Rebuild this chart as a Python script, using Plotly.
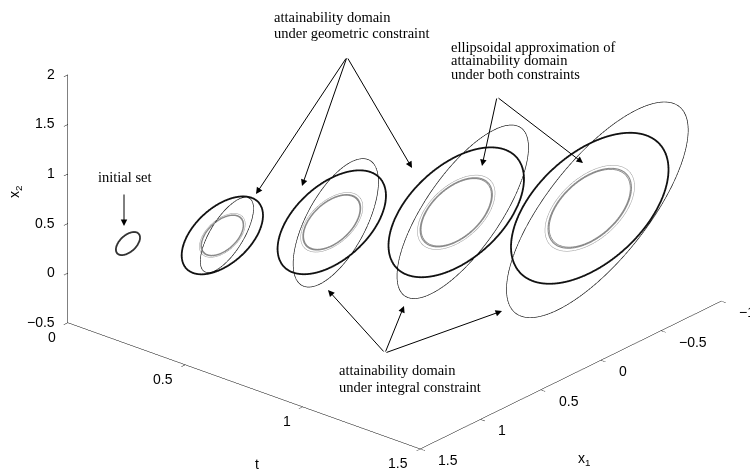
import numpy as np
import plotly.graph_objects as go

# ---------------- data ----------------
# time instants of the cross-sections
t_sections = [0.0, 0.375, 0.75, 1.125, 1.5]

# centre (x1, x2) of the sets at each section
center_x1 = [1.0, 0.948, 0.771, 0.469, 0.092]
center_x2 = [0.0, 0.37, 0.715, 0.954, 1.088]

# attainability domain under geometric constraint (circle radius)
geom_radius = [0.1, 0.3375, 0.45, 0.5625, 0.654]

# ellipsoidal approximation under both constraints (outer ring radius)
approx_radius = [None, 0.19, 0.258, 0.322, 0.372]
approx_ring_scale = [1.0, 0.93, 0.905]
approx_ring_width = [1.0, 2.2, 1.6]

# attainability domain under integral constraint: centre and shape matrix
integ_x1 = [None, 0.910, 0.7375, 0.415, 0.029]
integ_x2 = [None, 0.352, 0.689, 0.927, 1.035]
integ_q11 = [None, 0.0488, 0.1254, 0.298, 0.569]
integ_q12 = [None, -0.0296, -0.0714, -0.176, -0.267]
integ_q22 = [None, 0.0913, 0.2897, 0.450, 0.662]

# axes
t_ticks = [0, 0.5, 1, 1.5]
x1_ticks = [-1, -0.5, 0, 0.5, 1, 1.5]
x2_ticks = [-0.5, 0, 0.5, 1, 1.5, 2]
t_range = [0, 1.5]
x1_range = [-1, 1.5]
x2_range = [-0.5, 2]

W, H = 750, 472
phi = np.linspace(0, 2 * np.pi, 241)


def ellipse(cx, cy, q11, q12, q22):
    L = np.linalg.cholesky(np.array([[q11, q12], [q12, q22]]))
    pts = L @ np.vstack([np.cos(phi), np.sin(phi)])
    return cx + pts[0], cy + pts[1]


def add_curve(fig, t, x1, x2, color, width):
    fig.add_trace(go.Scatter3d(
        x=np.full_like(x1, t), y=x1, z=x2, mode="lines",
        line=dict(color=color, width=width),
        hoverinfo="skip", showlegend=False))


fig = go.Figure()
for k, t in enumerate(t_sections):
    # integral constraint domain (thin black)
    if integ_q11[k] is not None:
        a, b = ellipse(integ_x1[k], integ_x2[k], integ_q11[k], integ_q12[k], integ_q22[k])
        add_curve(fig, t, a, b, "black", 1.2)
    # ellipsoidal approximation (gray rings)
    if approx_radius[k] is not None:
        for s, w in zip(approx_ring_scale, approx_ring_width):
            r = approx_radius[k] * s
            a, b = ellipse(center_x1[k], center_x2[k], r * r, 0.0, r * r)
            add_curve(fig, t, a, b, "#8a8a8a" if w > 1.5 else "#9a9a9a", w)
    # geometric constraint domain (thick black)
    r = geom_radius[k]
    a, b = ellipse(center_x1[k], center_x2[k], r * r, 0.0, r * r)
    add_curve(fig, t, a, b, "#111111" if k else "#333333", 3.6)

axis_common = dict(
    showgrid=False, zeroline=False, showbackground=False, showline=True,
    linecolor="black", linewidth=1, ticks="outside", ticklen=6,
    tickcolor="black", showspikes=False, title=dict(text=""),
    showticklabels=False,
)

# camera: orthographic view, direction from azimuth/elevation
az = np.deg2rad(-49.5)
el = np.deg2rad(24.8)
d = np.array([np.cos(el) * np.cos(az), np.cos(el) * np.sin(az), np.sin(el)])
right = np.array([-np.sin(az), np.cos(az), 0.0])
up = np.array([-np.cos(az) * np.sin(el), -np.sin(az) * np.sin(el), np.cos(el)])
k_px = H / 2.0                      # pixels per world unit (full-height viewport)
shift_px = np.array([19.5, 48.0])   # move picture right / up (pixels)
c = -(shift_px[0] / k_px) * right - (shift_px[1] / k_px) * up
e = c + 2.0 * d
S = 1.964

sans = dict(family="Liberation Sans", size=14, color="black")
serif = dict(family="Liberation Serif", size=14.5, color="black")

# tick labels placed at the 3-D tick positions (horizontal, MATLAB style)
scene_ann = []
for v in t_ticks:
    scene_ann.append(dict(x=v, y=x1_range[1], z=x2_range[0], text=f"{v:g}", showarrow=False,
                          xanchor="right", yanchor="middle", xshift=-10, yshift=-14, font=sans))
for v in x1_ticks:
    scene_ann.append(dict(x=t_range[1], y=v, z=x2_range[0], text=f"{v:g}".replace("-", "\u2212"),
                          showarrow=False, xanchor="left", yanchor="middle", xshift=16, yshift=-11,
                          font=sans))
for v in x2_ticks:
    scene_ann.append(dict(x=t_range[0], y=x1_range[1], z=v, text=f"{v:g}".replace("-", "\u2212"),
                          showarrow=False, xanchor="right", yanchor="middle", xshift=-11, yshift=1,
                          font=sans))

fig.update_layout(
    width=W, height=H,
    margin=dict(l=0, r=0, t=0, b=0),
    paper_bgcolor="white",
    showlegend=False,
    scene=dict(
        domain=dict(x=[0, 1], y=[0, 1]),
        xaxis=dict(axis_common, range=t_range, tickvals=t_ticks),
        yaxis=dict(axis_common, range=x1_range[::-1], tickvals=x1_ticks),
        zaxis=dict(axis_common, range=x2_range, tickvals=x2_ticks),
        aspectmode="manual",
        aspectratio=dict(x=S, y=S, z=0.589 * S),
        camera=dict(eye=dict(x=e[0], y=e[1], z=e[2]), up=dict(x=0, y=0, z=1),
                    center=dict(x=c[0], y=c[1], z=c[2]),
                    projection=dict(type="orthographic")),
        annotations=scene_ann,
    ),
)


def px(x, y):
    return x / W, 1 - y / H


annotations = []
# label lines: (text, x, y, anchor)
labels = [
    ("initial set", 125, 177, "center"),
    ("attainability domain", 273, 17.5, "left"),
    ("under geometric constraint", 273, 33, "left"),
    ("ellipsoidal approximation of", 450, 46.5, "left"),
    ("attainability domain", 450, 60.5, "left"),
    ("under both constraints", 450, 74, "left"),
    ("attainability domain", 338, 370, "left"),
    ("under integral constraint", 338, 386.5, "left"),
]
for txt, x, y, anc in labels:
    X, Y = px(x, y)
    annotations.append(dict(x=X, y=Y, xref="paper", yref="paper", text=txt, showarrow=False,
                            font=serif, xanchor=anc, yanchor="middle", borderpad=0))

# arrows: (tail, head)
arrows = [
    ((124, 193), (124, 226)),
    ((347, 57), (256, 194)),
    ((347, 57), (302, 186)),
    ((347, 57), (412, 168)),
    ((497, 97), (482, 166)),
    ((497, 97), (583, 163)),
    ((385, 353), (328, 290)),
    ((385, 353), (404, 306)),
    ((385, 353), (502, 311)),
]
for (tx, ty), (hx, hy) in arrows:
    X, Y = px(hx, hy)
    annotations.append(dict(x=X, y=Y, xref="paper", yref="paper", text="", showarrow=True,
                            ax=tx - hx, ay=ty - hy, axref="pixel", ayref="pixel",
                            arrowhead=2, arrowsize=1.3, arrowwidth=1, arrowcolor="black",
                            standoff=0, startstandoff=0))

# axis titles
for txt, x, y, ang in [("t", 257, 464, 0), ("x<sub>1</sub>", 584, 459, 0), ("x<sub>2</sub>", 15, 192, -90)]:
    X, Y = px(x, y)
    annotations.append(dict(x=X, y=Y, xref="paper", yref="paper", text=txt, showarrow=False,
                            font=sans, textangle=ang, xanchor="center", yanchor="middle"))

fig.update_layout(annotations=annotations)
fig.write_html("out.html", config={"displayModeBar": False},
               post_script="document.body.style.margin='0px';")
